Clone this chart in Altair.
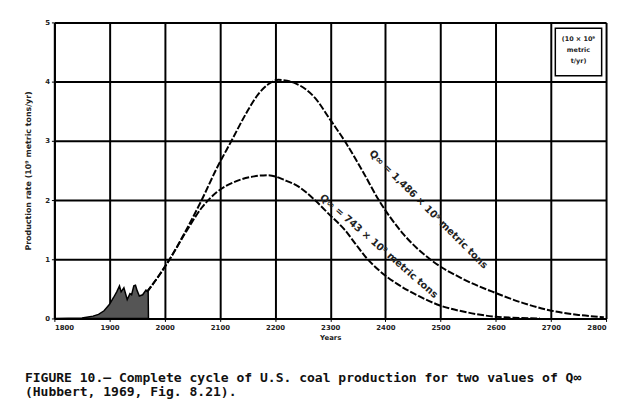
import altair as alt
import pandas as pd

# ---- data ----
x_ticks = [1800, 1900, 2000, 2100, 2200, 2300, 2400, 2500, 2600, 2700, 2800]
y_ticks = [0, 1, 2, 3, 4, 5]

big_years = [1968, 1990, 2009, 2041, 2067, 2094, 2121, 2148, 2169, 2187, 2206, 2237,
             2272, 2299, 2326, 2358, 2388, 2433, 2481, 2540, 2600, 2650, 2697, 2750, 2796]
big_vals = [0.45, 0.73, 1.0, 1.53, 2.0, 2.53, 3.0, 3.47, 3.78, 3.95, 4.03, 3.97,
            3.73, 3.37, 3.0, 2.5, 2.0, 1.42, 1.0, 0.67, 0.43, 0.26, 0.14, 0.06, 0.02]

small_years = [1968, 1990, 2009, 2041, 2067, 2094, 2130, 2162, 2187, 2219, 2242, 2272,
               2299, 2326, 2345, 2365, 2390, 2422, 2460, 2499, 2550, 2600, 2680]
small_vals = [0.45, 0.73, 1.0, 1.5, 1.87, 2.13, 2.32, 2.4, 2.42, 2.33, 2.23, 2.0,
              1.75, 1.5, 1.27, 1.03, 0.8, 0.58, 0.38, 0.22, 0.1, 0.03, 0.0]

hist_years = [1800, 1850, 1870, 1880, 1890, 1900, 1907, 1913, 1918, 1921, 1926, 1932,
              1937, 1940, 1944, 1947, 1950, 1954, 1960, 1966, 1970, 1970.5]
hist_vals = [0.0, 0.01, 0.04, 0.07, 0.13, 0.24, 0.35, 0.45, 0.55, 0.45, 0.52, 0.32,
             0.42, 0.40, 0.55, 0.56, 0.47, 0.38, 0.40, 0.48, 0.45, 0.0]

curve_labels = ["Q\u221e = 1,486 \u00d7 10\u2079 metric tons", "Q\u221e = 743 \u00d7 10\u2079 metric tons"]
label_years = [2478, 2388]
label_vals = [1.84, 1.22]
label_angles = [45, 41]

box_lines = ["(10 \u00d7 10\u2079", "metric", "t/yr)"]
caption = ["FIGURE 10.\u2014 Complete cycle of U.S. coal production for two values of Q\u221e",
           "(Hubbert, 1969, Fig. 8.21)."]

# ---- tables ----
curves = pd.concat([
    pd.DataFrame({"year": big_years, "rate": big_vals, "series": "big"}),
    pd.DataFrame({"year": small_years, "rate": small_vals, "series": "small"}),
])
hist = pd.DataFrame({"year": hist_years, "rate": hist_vals})
labels = pd.DataFrame({"year": label_years, "rate": label_vals,
                       "text": curve_labels, "angle": label_angles})
box_df = pd.DataFrame({"x": [2708], "x2": [2792], "y": [4.9], "y2": [4.1]})
box_text = pd.DataFrame({"year": [2750] * 3, "rate": [4.72, 4.53, 4.34], "text": box_lines})

xs = alt.Scale(domain=[1800, 2800], nice=False)
ys = alt.Scale(domain=[0, 5], nice=False)

x_enc = alt.X("year:Q", scale=xs, axis=alt.Axis(
    values=x_ticks, title="Years", format="d", labelFont="DejaVu Sans", labelFontSize=7,
    labelFontWeight="bold", titleFont="DejaVu Sans", titleFontSize=7, titleFontWeight="bold",
    titlePadding=3, grid=True, gridColor="black", gridWidth=2, tickColor="black",
    tickSize=3, domainColor="black", domainWidth=2, labelColor="#222", titleColor="#222"))
y_enc = alt.Y("rate:Q", scale=ys, axis=alt.Axis(
    values=y_ticks, format="d", title="Production rate (10\u2079 metric tons/yr)",
    labelFont="DejaVu Sans", labelFontSize=7, labelFontWeight="bold",
    titleFont="DejaVu Sans", titleFontSize=8, titleFontWeight="bold", titlePadding=12,
    grid=True, gridColor="black", gridWidth=2, tickColor="black", tickSize=3,
    domainColor="black", domainWidth=2, labelColor="#222", titleColor="#222"))

area = alt.Chart(hist).mark_area(color="#555", stroke="black", strokeWidth=1.5,
                                 interpolate="linear").encode(x=x_enc, y=y_enc)

lines = alt.Chart(curves).mark_line(color="black", strokeWidth=2, strokeDash=[7, 2],
                                    interpolate="monotone").encode(
    x="year:Q", y="rate:Q", detail="series:N")

texts = alt.Chart(labels).mark_text(font="DejaVu Sans", fontSize=10, fontWeight="bold",
                                    color="#222").encode(
    x="year:Q", y="rate:Q", text="text:N", angle=alt.Angle("angle:Q", scale=None))

box = alt.Chart(box_df).mark_rect(fill="white", stroke="black", strokeWidth=1.5).encode(
    x="x:Q", x2="x2:Q", y="y:Q", y2="y2:Q")
box_t = alt.Chart(box_text).mark_text(font="DejaVu Sans", fontSize=6.5, fontWeight="bold",
                                      color="#222").encode(x="year:Q", y="rate:Q", text="text:N")

chart = alt.layer(area, lines, texts, box, box_t).properties(
    width=559, height=300,
    autosize=alt.AutoSizeParams(type="none"),
    padding={"left": 47, "top": 12, "right": 5, "bottom": 79},
    title=alt.TitleParams(text=caption, orient="bottom", anchor="start", dx=0, offset=32,
                          font="DejaVu Sans Mono", fontSize=13.2, fontWeight="bold",
                          color="#111", lineHeight=15),
).configure_view(stroke="black", strokeWidth=2).configure(background="white")

chart.save("out.html", embed_options={"renderer": "svg", "actions": False})
